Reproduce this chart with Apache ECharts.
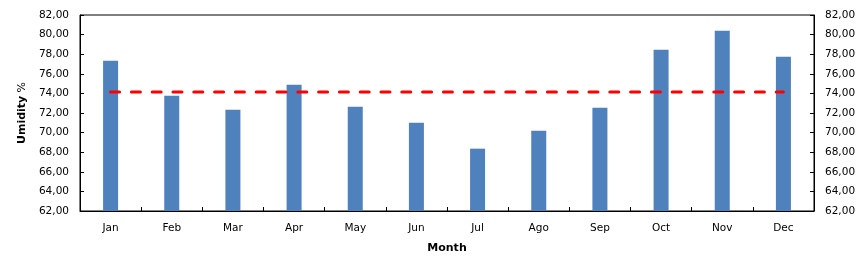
<!DOCTYPE html>
<html>
<head>
<meta charset="utf-8">
<script src="https://cdn.jsdelivr.net/npm/echarts@6/dist/echarts.min.js"></script>
<style>html,body{margin:0;padding:0;background:#fff}#c{width:867px;height:274px}</style>
</head>
<body>
<div id="c"></div>
<script>
const months = ['Jan','Feb','Mar','Apr','May','Jun','Jul','Ago','Sep','Oct','Nov','Dec'];
const humidity = [77.34, 73.77, 72.34, 74.89, 72.64, 71.01, 68.36, 70.20, 72.54, 78.46, 80.40, 77.74];
const average = [74.14, 74.14, 74.14, 74.14, 74.14, 74.14, 74.14, 74.14, 74.14, 74.14, 74.14, 74.14];
const yMin = 62, yMax = 82, yStep = 2;

const font = 'DejaVu Sans';
const chart = echarts.init(document.getElementById('c'));
const yCommon = {
  type: 'value', min: yMin, max: yMax, interval: yStep,
  splitLine: { show: false },
  axisLine: { show: true, lineStyle: { color: '#000', width: 1 } },
  axisTick: { show: true, inside: true, length: 4, lineStyle: { color: '#000' } },
  axisLabel: { color: '#000', fontFamily: font, fontSize: 10.5, margin: 11,
    formatter: v => v.toFixed(2).replace('.', ',') }
};
chart.setOption({
  animation: false,
  grid: { left: 80, right: 53, top: 15, bottom: 63, show: true, borderColor: '#000', borderWidth: 1 },
  xAxis: {
    type: 'category', data: months,
    name: 'Month', nameLocation: 'middle', nameGap: 32,
    nameTextStyle: { color: '#000', fontFamily: font, fontSize: 11, fontWeight: 'bold' },
    axisLine: { lineStyle: { color: '#000', width: 1 } },
    axisTick: { show: true, inside: true, length: 4, lineStyle: { color: '#000' } },
    axisLabel: { color: '#000', fontFamily: font, fontSize: 10.5, margin: 12 }
  },
  yAxis: [
    Object.assign({}, yCommon, {
      position: 'left',
      name: '{b|Umidity} {n|%}', nameLocation: 'middle', nameGap: 46, nameRotate: 90,
      nameTextStyle: { rich: {
        b: { color: '#000', fontFamily: font, fontSize: 11, fontWeight: 'bold' },
        n: { color: '#000', fontFamily: font, fontSize: 11 }
      } }
    }),
    Object.assign({}, yCommon, { position: 'right' })
  ],
  series: [
    { type: 'bar', data: humidity, barWidth: 15, itemStyle: { color: '#4F81BD' }, yAxisIndex: 0 },
    { type: 'line', data: average, symbol: 'none', yAxisIndex: 0,
      lineStyle: { color: '#FF0000', width: 3, type: [9, 11.8], cap: 'round' } }
  ]
});
</script>
</body>
</html>
